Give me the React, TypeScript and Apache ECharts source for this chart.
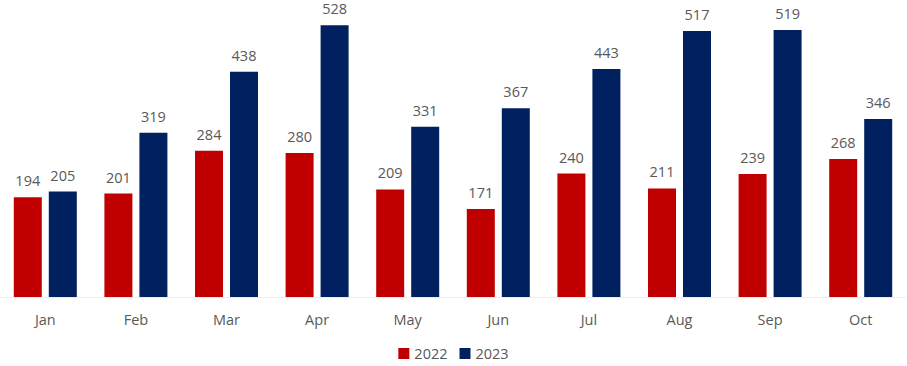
import React, { useEffect, useRef } from "react";
import * as echarts from "echarts";

const categories = ["Jan", "Feb", "Mar", "Apr", "May", "Jun", "Jul", "Aug", "Sep", "Oct"];
const values2022 = [194, 201, 284, 280, 209, 171, 240, 211, 239, 268];
const values2023 = [205, 319, 438, 528, 331, 367, 443, 517, 519, 346];

const FONT = "'Open Sans', 'Noto Sans', sans-serif";

export default function App() {
  const ref = useRef<HTMLDivElement>(null);
  useEffect(() => {
    if (!ref.current) return;
    const chart = echarts.init(ref.current, undefined, { renderer: "svg" });
    const label = {
      show: true,
      position: "top",
      distance: 9,
      color: "#595959",
      fontSize: 14.5,
      fontFamily: FONT,
    };
    chart.setOption({
      animation: false,
      grid: { left: 0, right: 1, top: 14, bottom: 69, containLabel: false },
      legend: {
        data: ["2022", "2023"],
        top: 346,
        left: "center",
        itemWidth: 11,
        itemHeight: 11,
        itemGap: 12,
        icon: "rect",
        padding: 0,
        textStyle: { color: "#595959", fontSize: 14.5, fontFamily: FONT },
      },
      xAxis: {
        type: "category",
        data: categories,
        axisLine: { show: true, lineStyle: { color: "#eeeeee", width: 1 } },
        axisTick: { show: false },
        axisLabel: { color: "#595959", fontSize: 14.5, fontFamily: FONT, margin: 15 },
      },
      yAxis: {
        type: "value",
        min: 0,
        max: 550,
        show: false,
        splitLine: { show: false },
      },
      series: [
        {
          name: "2022",
          type: "bar",
          data: values2022,
          barWidth: 28,
          barGap: "25%",
          itemStyle: { color: "#C00000" },
          label,
        },
        {
          name: "2023",
          type: "bar",
          data: values2023,
          barWidth: 28,
          barGap: "25%",
          itemStyle: { color: "#002060" },
          label,
        },
      ],
    });
    return () => chart.dispose();
  }, []);
  return <div ref={ref} style={{ width: 907, height: 366, position: "absolute", left: 0, top: 0 }} />;
}
